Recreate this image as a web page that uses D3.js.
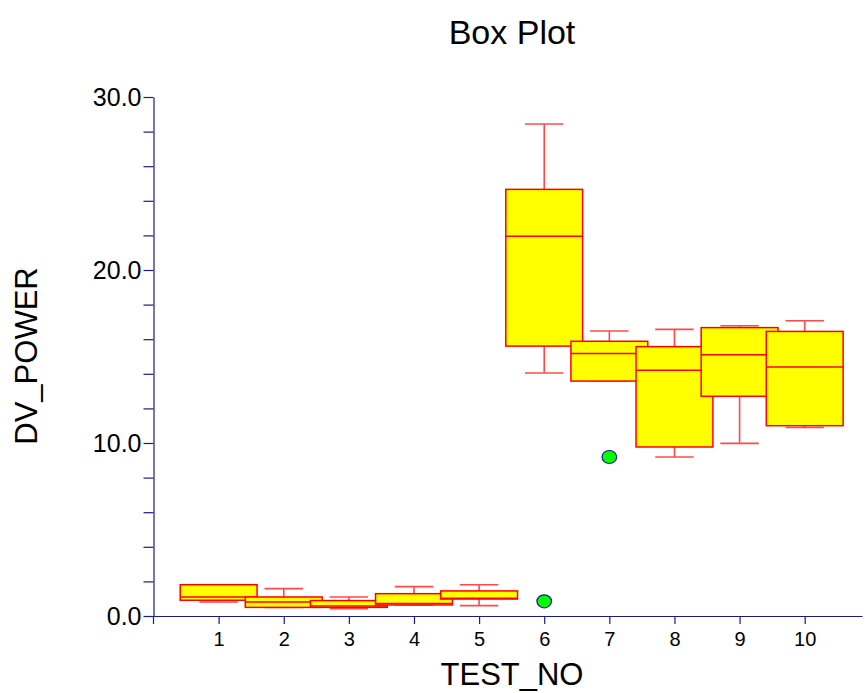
<!DOCTYPE html>
<html>
<head>
<meta charset="utf-8">
<script src="https://cdn.jsdelivr.net/npm/d3@7"></script>
<style>
  html, body { margin: 0; padding: 0; background: #fff; }
  svg { display: block; font-family: "Liberation Sans", Arial, sans-serif; }
</style>
</head>
<body>
<svg id="chart" width="865" height="693"></svg>
<script>
// Box plot of DV_POWER per TEST_NO
const tests       = [1, 2, 3, 4, 5, 6, 7, 8, 9, 10];
const whiskerLow  = [0.81, 0.50, 0.42, 0.64, 0.60, 14.05, 13.58, 9.19, 9.98, 10.90];
const q1          = [0.91, 0.50, 0.50, 0.64, 0.98, 15.60, 13.58, 9.77, 12.70, 11.00];
const median      = [1.10, 0.81, 0.58, 0.72, 1.02, 21.95, 15.18, 14.20, 15.10, 14.39];
const q3          = [1.81, 1.10, 0.89, 1.29, 1.45, 24.66, 15.88, 15.57, 16.67, 16.45];
const whiskerHigh = [1.81, 1.58, 1.10, 1.70, 1.81, 28.44, 16.47, 16.57, 16.78, 17.07];
const outlierTest  = [6, 7];
const outlierValue = [0.85, 9.19];
const yTicks = [0, 2, 4, 6, 8, 10, 12, 14, 16, 18, 20, 22, 24, 26, 28, 30];

const svg = d3.select("#chart");
const axisColor = "#1a1a8a";

const x = d3.scaleLinear().domain([0, 10.88]).range([153.5, 862]);
const y = d3.scaleLinear().domain([0, 30]).range([616, 97]);

const boxHalf = 0.59;   // half box width, in test units
const capHalf = 0.295;  // half whisker cap width

const g = svg.append("g");

tests.forEach((t, i) => {
  const cx = x(t);
  const bl = x(t - boxHalf), br = x(t + boxHalf);
  const cl = x(t - capHalf), cr = x(t + capHalf);
  const wg = g.append("g")
    .attr("stroke", "#ff4a4a").attr("stroke-width", 1.6).attr("fill", "none");
  // whiskers
  wg.append("line").attr("x1", cx).attr("x2", cx).attr("y1", y(q3[i])).attr("y2", y(whiskerHigh[i]));
  wg.append("line").attr("x1", cx).attr("x2", cx).attr("y1", y(q1[i])).attr("y2", y(whiskerLow[i]));
  wg.append("line").attr("x1", cl).attr("x2", cr).attr("y1", y(whiskerHigh[i])).attr("y2", y(whiskerHigh[i]));
  wg.append("line").attr("x1", cl).attr("x2", cr).attr("y1", y(whiskerLow[i])).attr("y2", y(whiskerLow[i]));
  // box
  g.append("rect")
    .attr("x", bl).attr("width", br - bl)
    .attr("y", y(q3[i])).attr("height", Math.max(0, y(q1[i]) - y(q3[i])))
    .attr("fill", "#ffff00").attr("stroke", "#ff0000").attr("stroke-width", 1.5);
  // median
  g.append("line")
    .attr("x1", bl).attr("x2", br).attr("y1", y(median[i])).attr("y2", y(median[i]))
    .attr("stroke", "#ff0000").attr("stroke-width", 1.5);
});

// outliers
outlierTest.forEach((t, i) => {
  g.append("ellipse")
    .attr("cx", x(t)).attr("cy", y(outlierValue[i]))
    .attr("rx", 7.3).attr("ry", 6.5)
    .attr("fill", "#00ff00").attr("stroke", "#1a1a8a").attr("stroke-width", 1.2);
});

// y axis
const yAxis = svg.append("g")
  .attr("transform", `translate(${x(0)},0)`)
  .call(d3.axisLeft(y).tickValues(yTicks).tickSize(10).tickSizeOuter(0).tickPadding(2)
    .tickFormat(d => d % 10 === 0 ? d3.format(".1f")(d) : ""));
yAxis.selectAll("path, line").attr("stroke", axisColor).attr("stroke-width", 1.2);
yAxis.selectAll("text").attr("fill", "#000").style("font-size", "25px")
  .style("font-family", "Liberation Sans, Arial, sans-serif");
svg.append("line")
  .attr("x1", x(0)).attr("x2", x(0)).attr("y1", y(0)).attr("y2", y(0) + 8)
  .attr("stroke", axisColor).attr("stroke-width", 1.2);

// x axis
const xAxis = svg.append("g")
  .attr("transform", `translate(0,${y(0)})`)
  .call(d3.axisBottom(x).tickValues(tests).tickSize(8).tickSizeOuter(0).tickPadding(8)
    .tickFormat(d3.format("d")));
xAxis.selectAll("path, line").attr("stroke", axisColor).attr("stroke-width", 1.2);
xAxis.selectAll("text").attr("fill", "#000").style("font-size", "20px")
  .style("font-family", "Liberation Sans, Arial, sans-serif");

// titles
svg.append("text")
  .attr("x", 512).attr("y", 44).attr("text-anchor", "middle")
  .style("font-size", "34px").text("Box Plot");
svg.append("text")
  .attr("x", 512).attr("y", 685).attr("text-anchor", "middle")
  .style("font-size", "31px").text("TEST_NO");
svg.append("text")
  .attr("transform", "translate(37,356) rotate(-90)").attr("text-anchor", "middle")
  .style("font-size", "31px").text("DV_POWER");
</script>
</body>
</html>
